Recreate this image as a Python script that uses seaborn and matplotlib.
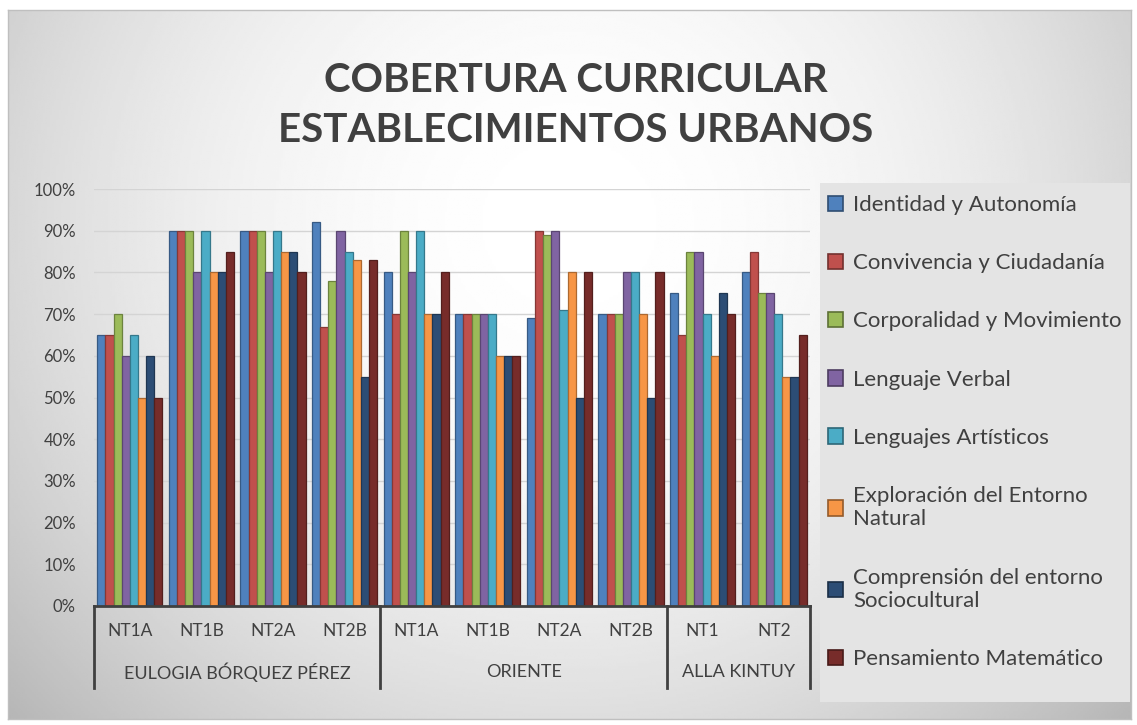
import numpy as np
import pandas as pd
import matplotlib.pyplot as plt
import matplotlib.colors as mcolors
from matplotlib.patches import Rectangle, Patch
from matplotlib.ticker import PercentFormatter
import seaborn as sns

# ---- data (percent coverage) ----
escuelas = ['EULOGIA BÓRQUEZ PÉREZ', 'ORIENTE', 'ALLA KINTUY']
niveles = [['NT1A', 'NT1B', 'NT2A', 'NT2B'],
           ['NT1A', 'NT1B', 'NT2A', 'NT2B'],
           ['NT1', 'NT2']]
ambitos = ['Identidad y Autonomía', 'Convivencia y Ciudadanía',
           'Corporalidad y Movimiento', 'Lenguaje Verbal',
           'Lenguajes Artísticos', 'Exploración del Entorno Natural',
           'Comprensión del entorno Sociocultural', 'Pensamiento Matemático']

identidad = [65, 90, 90, 92, 80, 70, 69, 70, 75, 80]
convivencia = [65, 90, 90, 67, 70, 70, 90, 70, 65, 85]
corporalidad = [70, 90, 90, 78, 90, 70, 89, 70, 85, 75]
lenguaje_verbal = [60, 80, 80, 90, 80, 70, 90, 80, 85, 75]
lenguajes_artisticos = [65, 90, 90, 85, 90, 70, 71, 80, 70, 70]
exploracion = [50, 80, 85, 83, 70, 60, 80, 70, 60, 55]
comprension = [60, 80, 85, 55, 70, 60, 50, 50, 75, 55]
pensamiento = [50, 85, 80, 83, 80, 60, 80, 80, 70, 65]

series = [identidad, convivencia, corporalidad, lenguaje_verbal,
          lenguajes_artisticos, exploracion, comprension, pensamiento]

colores = ['#4F81BD', '#C0504D', '#9BBB59', '#8064A2',
           '#4BACC6', '#F79646', '#2C4D75', '#772C2A']

# long table for seaborn
cursos = [f'{e}|{n}' for e, ns in zip(escuelas, niveles) for n in ns]
etiquetas = [n for ns in niveles for n in ns]
rows = []
for amb, vals in zip(ambitos, series):
    for c, v in zip(cursos, vals):
        rows.append({'curso': c, 'ambito': amb, 'valor': v})
df = pd.DataFrame(rows)

W, H = 1137, 725
fig = plt.figure(figsize=(W / 100, H / 100), dpi=100)
fig.patch.set_facecolor('white')
plt.rcParams['font.family'] = ['Lato', 'DejaVu Sans']

# background gradient of the chart area
bg = fig.add_axes([8 / W, 1 - 719 / H, 1123 / W, 709 / H], zorder=-2)
yy, xx = np.mgrid[0:1:300j, 0:1:500j]
d = ((xx - 0.5) / 0.62) ** 2 + ((yy - 0.3) / 0.95) ** 2
grad = np.clip(1 - 0.24 * d, 0.7, 1.0)
bg.imshow(grad, cmap='gray', vmin=0, vmax=1, aspect='auto', extent=[0, 1, 1, 0])
bg.set_xticks([])
bg.set_yticks([])
for s in bg.spines.values():
    s.set_color('#BFBFBF')
    s.set_linewidth(1)

# legend panel
fig.patches.append(Rectangle((820 / W, 1 - 702 / H), 310 / W, 519 / H,
                             transform=fig.transFigure, facecolor='#E4E4E4',
                             edgecolor='none', zorder=-1))

# main axes
ax = fig.add_axes([94 / W, 1 - 606 / H, (810 - 94) / W, (606 - 189) / H])
ax.patch.set_alpha(0)
sns.barplot(data=df, x='curso', y='valor', hue='ambito', order=cursos,
            hue_order=ambitos, palette=colores, saturation=1, width=0.91,
            legend=False, ax=ax)


def darker(c, f=0.7):
    r, g, b = mcolors.to_rgb(c)
    return (r * f, g * f, b * f)


for cont, col in zip(ax.containers, colores):
    for bar in cont:
        bar.set_edgecolor(darker(col))
        bar.set_linewidth(0.9)

ax.set_ylim(0, 100)
ax.set_xlim(-0.5, len(cursos) - 0.5)
ax.set_yticks(range(0, 101, 10))
ax.yaxis.set_major_formatter(PercentFormatter(100, decimals=0))
ax.grid(axis='y', color='#D4D4D4', linewidth=1)
ax.set_axisbelow(True)
ax.set_xlabel('')
ax.set_ylabel('')
for side in ['left', 'right', 'top']:
    ax.spines[side].set_visible(False)
ax.spines['bottom'].set_color('#404040')
ax.spines['bottom'].set_linewidth(2)
ax.tick_params(axis='y', length=0, pad=13, labelsize=12, labelcolor='#404040')
ax.set_xticks(range(len(cursos)))
ax.set_xticklabels(etiquetas)
ax.tick_params(axis='x', length=0, pad=12, labelsize=12.5, labelcolor='#404040')

# second level of the category axis
trans = ax.get_xaxis_transform()
bordes = [-0.5]
inicio = 0
for esc, ns in zip(escuelas, niveles):
    centro = inicio + (len(ns) - 1) / 2
    ax.text(centro, -0.158, esc, transform=trans, ha='center', va='center',
            fontsize=13, color='#404040')
    inicio += len(ns)
    bordes.append(inicio - 0.5)
for b in bordes:
    ax.plot([b, b], [0, -0.197], transform=trans, color='#404040',
            linewidth=2, clip_on=False)

# legend
leg_labels = [a.replace('Entorno Natural', 'Entorno\nNatural')
               .replace('entorno Sociocultural', 'entorno\nSociocultural')
              for a in ambitos]
handles = [Patch(facecolor=c, edgecolor=darker(c, 0.6), linewidth=1.2) for c in colores]
fig.legend(handles, leg_labels, loc='upper left',
           bbox_to_anchor=(808 / W, 1 - 175 / H), frameon=False,
           fontsize=16, labelspacing=1.72, handlelength=0.68, handleheight=0.68,
           handletextpad=0.45, labelcolor='#404040')

# title
fig.text(576 / W, 1 - 80 / H, 'COBERTURA CURRICULAR', ha='center', va='center',
         fontsize=29, fontweight='bold', color='#404040')
fig.text(576 / W, 1 - 130 / H, 'ESTABLECIMIENTOS URBANOS', ha='center', va='center',
         fontsize=29, fontweight='bold', color='#404040')

plt.savefig('out.png', dpi=100, facecolor='white')
